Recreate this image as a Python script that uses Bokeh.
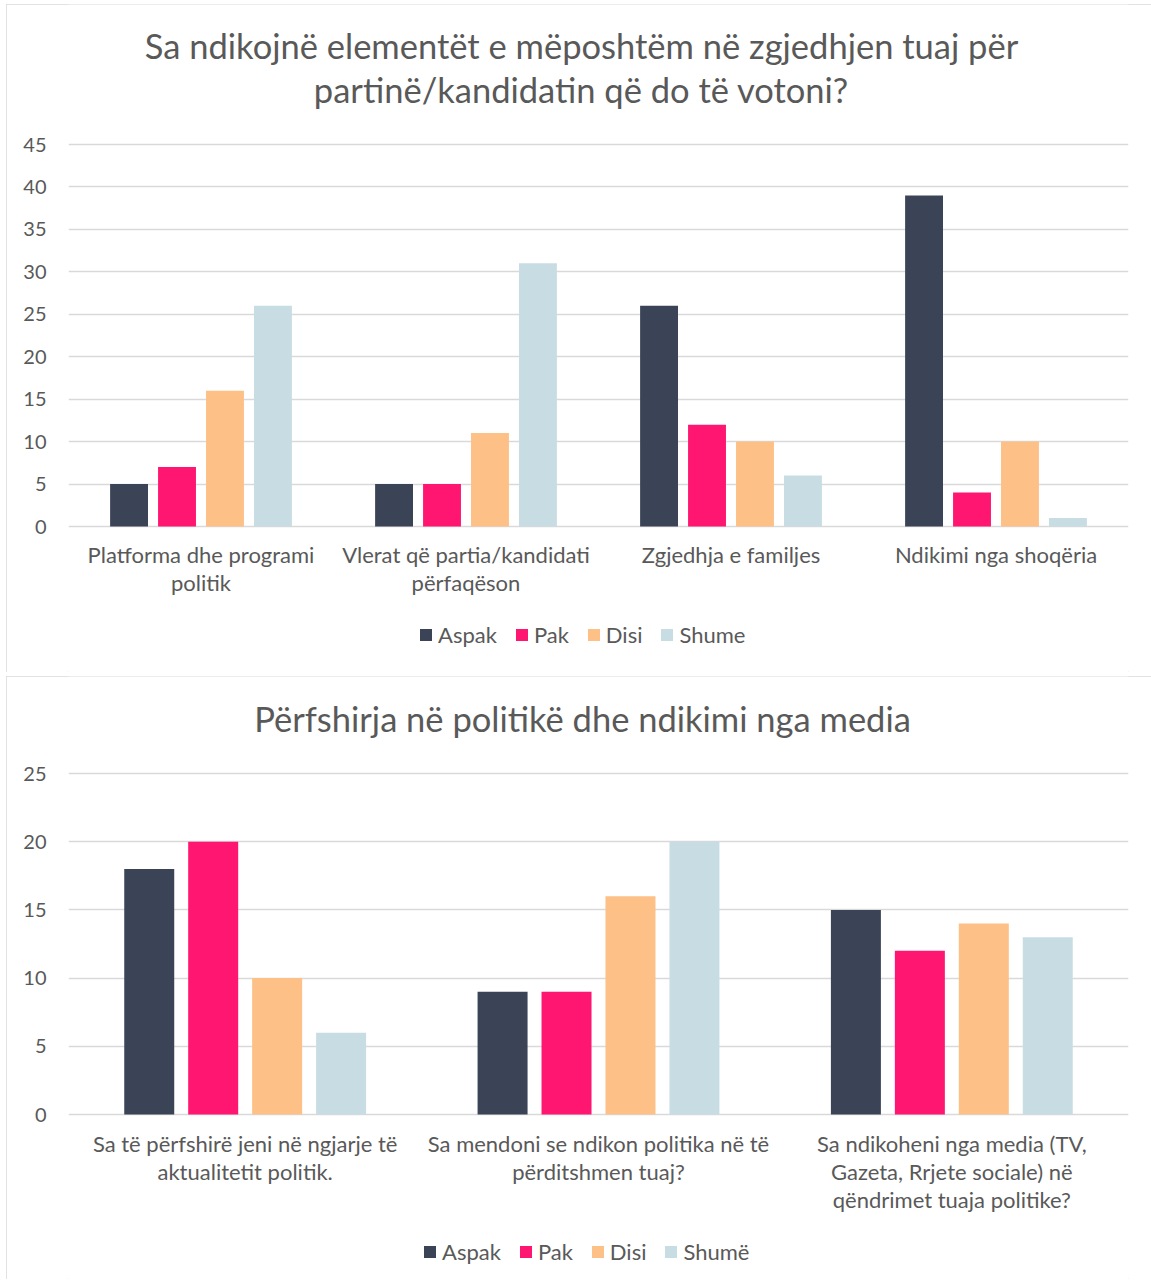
from bokeh.plotting import figure
from bokeh.models import FactorRange, Range1d, Legend, LegendItem, FixedTicker, ColumnDataSource, Spacer
from bokeh.transform import dodge
from bokeh.layouts import column, row
from bokeh.core.properties import value
from bokeh.embed import file_html
from bokeh.resources import INLINE

FONT = "Lato"
TXT = "#595959"
GRID = "#D9D9D9"
COLORS = ["#3B4457", "#FF1670", "#FDC086", "#C8DDE3"]

# ---------------- chart 1 data ----------------
title1 = ["Sa ndikojnë elementët e mëposhtëm në zgjedhjen tuaj për",
          "partinë/kandidatin që do të votoni?"]
cats1 = ["Platforma dhe programi\npolitik",
         "Vlerat që partia/kandidati\npërfaqëson",
         "Zgjedhja e familjes",
         "Ndikimi nga shoqëria"]
series1 = ["Aspak", "Pak", "Disi", "Shume"]
aspak1 = [5, 5, 26, 39]
pak1 = [7, 5, 12, 4]
disi1 = [16, 11, 10, 10]
shume1 = [26, 31, 6, 1]
yticks1 = [0, 5, 10, 15, 20, 25, 30, 35, 40, 45]

# ---------------- chart 2 data ----------------
title2 = ["Përfshirja në politikë dhe ndikimi nga media"]
cats2 = ["Sa të përfshirë jeni në ngjarje të\naktualitetit politik.",
         "Sa mendoni se ndikon politika në të\npërditshmen tuaj?",
         "Sa ndikoheni nga media (TV,\nGazeta, Rrjete sociale) në\nqëndrimet tuaja politike?"]
series2 = ["Aspak", "Pak", "Disi", "Shumë"]
aspak2 = [18, 9, 15]
pak2 = [20, 9, 12]
disi2 = [10, 16, 14]
shume2 = [6, 20, 13]
yticks2 = [0, 5, 10, 15, 20, 25]


def make_chart(title_lines, title_offsets, cats, series, values, yticks,
               width, height, frame_top, frame_bottom, bar_w, step,
               cat_offset, legend_loc, title_x_off):
    # pixel layout -> data range (frame spans whole canvas height)
    ymax = yticks[-1]
    ppu = (frame_bottom - frame_top) / ymax
    y_end = ymax + frame_top / ppu
    y_start = -(height - frame_bottom) / ppu

    p = figure(width=width, height=height,
               x_range=FactorRange(factors=cats, range_padding=0),
               y_range=Range1d(y_start, y_end), output_backend="svg",
               toolbar_location=None, min_border_left=62, min_border_right=23,
               min_border_top=0, min_border_bottom=0)
    p.title = None
    p.outline_line_color = None
    p.background_fill_color = "white"
    p.border_fill_color = "white"
    p.styles = {"outline": "1.5px solid #D9D9D9", "outline-offset": "-1.5px"}

    data = {"cat": cats}
    for s, v in zip(series, values):
        data[s] = v
    src = ColumnDataSource(data)
    items = []
    n = len(series)
    for i, (s, c) in enumerate(zip(series, COLORS)):
        off = (i - (n - 1) / 2) * step
        r = p.vbar(x=dodge("cat", off, range=p.x_range), top=s, width=bar_w, source=src,
                   fill_color=c, line_color=None)
        items.append(LegendItem(label=s, renderers=[r]))

    # category labels under the baseline
    p.text(x="cat", y=0, text="cat", source=src, y_offset=cat_offset,
           text_align="center", text_baseline="top", text_font=value(FONT),
           text_font_size="22px", text_color=TXT, text_line_height=1.05)

    # title lines above the top gridline
    for line, yo in zip(title_lines, title_offsets):
        p.text(x=[len(cats) / 2], y=[ymax], text=[line], x_offset=title_x_off, y_offset=yo,
               text_align="center", text_baseline="middle", text_font=value(FONT),
               text_font_size="34.5px", text_color=TXT)

    p.xaxis.visible = False
    p.xgrid.grid_line_color = None
    p.ygrid.grid_line_color = GRID
    p.ygrid.grid_line_width = 1.5
    p.ygrid.ticker = FixedTicker(ticks=yticks)
    p.yaxis.ticker = FixedTicker(ticks=yticks)
    p.yaxis.axis_line_color = None
    p.yaxis.major_tick_line_color = None
    p.yaxis.minor_tick_line_color = None
    p.yaxis.major_label_standoff = 16
    p.yaxis.major_label_text_font = FONT
    p.yaxis.major_label_text_font_size = "20px"
    p.yaxis.major_label_text_color = TXT

    leg = Legend(items=items, orientation="horizontal", location=legend_loc,
                 border_line_color=None, background_fill_alpha=0,
                 label_text_font=FONT, label_text_font_size="22px", label_text_color=TXT,
                 glyph_width=15, glyph_height=15, label_standoff=5, spacing=17,
                 padding=0, margin=0)
    p.add_layout(leg)
    return p


p1 = make_chart(title1, [-99, -55], cats1, series1, [aspak1, pak1, disi1, shume1], yticks1,
                width=1145, height=668, frame_top=140, frame_bottom=522,
                bar_w=0.143, step=0.181, cat_offset=14, legend_loc=(350, 24),
                title_x_off=-17)
p2 = make_chart(title2, [-55], cats2, series2, [aspak2, pak2, disi2, shume2], yticks2,
                width=1145, height=603, frame_top=97, frame_bottom=438,
                bar_w=0.1415, step=0.181, cat_offset=15, legend_loc=(354, 14),
                title_x_off=-16)

layout = column(Spacer(height=4),
                row(Spacer(width=6), p1),
                Spacer(height=4),
                row(Spacer(width=6), p2))
open("out.html", "w").write(file_html(layout, INLINE))
